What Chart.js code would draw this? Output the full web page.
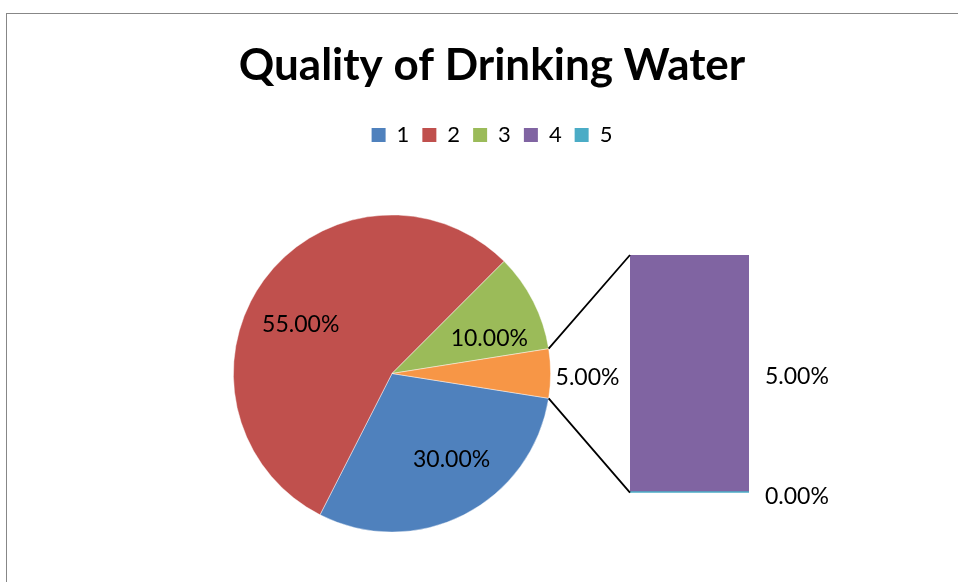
<!DOCTYPE html>
<html>
<head>
<meta charset="utf-8">
<script src="https://cdn.jsdelivr.net/npm/chart.js@4.4.1/dist/chart.umd.min.js"></script>
<style>
  html, body { margin: 0; padding: 0; background: #ffffff; overflow: hidden; }
  #wrap { position: relative; width: 958px; height: 582px; overflow: hidden; }
  #frame { position: absolute; left: 6px; top: 13px; width: 1200px; height: 1200px;
           border-left: 1px solid #878787; border-top: 1px solid #878787; }
  canvas { position: absolute; left: 0; top: 0; }
</style>
</head>
<body>
<div id="wrap">
  <div id="frame"></div>
  <canvas id="pieCanvas" width="958" height="582"></canvas>
  <canvas id="barCanvas" width="958" height="582"></canvas>
</div>
<script>
// ---------- data ----------
const chartTitle = 'Quality of Drinking Water';
const categories = ['1', '2', '3', '4', '5'];
const shares = [30, 55, 10, 5, 0];            // percent of total
const pieCategories = ['1', '2', '3'];        // own slices in the pie
const barCategories = ['5', '4'];             // stacked in the secondary bar, bottom first
const categoryColors = ['#4F81BD', '#C0504D', '#9BBB59', '#8064A2', '#4BACC6'];
const otherColor = '#F79646';

// ---------- derived ----------
const shareOf = c => shares[categories.indexOf(c)];
const otherValue = barCategories.reduce((s, c) => s + shareOf(c), 0);
const pieValues = pieCategories.map(shareOf).concat([otherValue]);
const pieColors = pieCategories.map(c => categoryColors[categories.indexOf(c)]).concat([otherColor]);
const total = pieValues.reduce((a, b) => a + b, 0);
const fmt = v => (v / total * 100).toFixed(2) + '%';

const FONT = 'Lato, "Open Sans", sans-serif';
const labelFont = '23px ' + FONT;

// label placement tweaks (degrees, fraction of radius) for the inner slice labels
const labelAngleNudge = [-8, -7.5, 6.5];
const labelRadiusFrac = 0.655;

// ---------- layout spacer boxes ----------
function spacerPlugin(id, specs) {
  return {
    id,
    beforeInit(chart) {
      specs.forEach(s => {
        const horizontal = s.position === 'top' || s.position === 'bottom';
        Chart.layouts.addBox(chart, {
          position: s.position, weight: s.weight || 0, fullSize: false,
          options: {},
          left: 0, top: 0, right: 0, bottom: 0, width: 0, height: 0,
          isHorizontal() { return horizontal; },
          update(maxW, maxH) {
            this.width = horizontal ? maxW : s.size;
            this.height = horizontal ? s.size : maxH;
          },
          draw() {}
        });
      });
    }
  };
}

// ---------- pie labels ----------
const pieLabelPlugin = {
  id: 'pieLabels',
  afterDatasetsDraw(chart) {
    const ctx = chart.ctx;
    const meta = chart.getDatasetMeta(0);
    ctx.save();
    ctx.font = labelFont;
    ctx.fillStyle = '#000';
    ctx.textBaseline = 'middle';
    meta.data.forEach((arc, i) => {
      const mid = (arc.startAngle + arc.endAngle) / 2;
      const txt = fmt(pieValues[i]);
      if (i === pieValues.length - 1) {
        const r = arc.outerRadius + 5;
        ctx.textAlign = 'left';
        ctx.fillText(txt, arc.x + r * Math.cos(mid), arc.y + r * Math.sin(mid) + 4);
      } else {
        const a = mid + labelAngleNudge[i] * Math.PI / 180;
        const r = arc.outerRadius * labelRadiusFrac;
        ctx.textAlign = 'center';
        ctx.fillText(txt, arc.x + r * Math.cos(a), arc.y + r * Math.sin(a) + 1);
      }
    });
    ctx.restore();
  }
};

const pieChart = new Chart(document.getElementById('pieCanvas'), {
  type: 'pie',
  data: {
    labels: pieCategories.concat(['Other']),
    datasets: [{
      data: pieValues,
      backgroundColor: pieColors,
      borderColor: 'rgba(255,255,255,0.55)',
      borderWidth: 0.8
    }]
  },
  options: {
    responsive: false,
    animation: false,
    events: [],
    rotation: 90 + otherValue * 3.6 / 2,
    layout: { padding: { left: 26, right: 0, top: 0, bottom: 49.5 } },
    plugins: {
      tooltip: { enabled: false },
      title: {
        display: true,
        text: chartTitle,
        color: '#000',
        font: { family: FONT, size: 44, weight: 'bold', lineHeight: 1.2 },
        padding: { top: 39.6, bottom: 18.6 }
      },
      legend: {
        display: true,
        position: 'top',
        labels: {
          color: '#000',
          font: { family: FONT, size: 22 },
          boxWidth: 14,
          boxHeight: 14,
          padding: 13,
          generateLabels: () => categories.map((c, i) => ({
            text: c, fillStyle: categoryColors[i], strokeStyle: categoryColors[i],
            lineWidth: 0, hidden: false, index: i, fontColor: '#000'
          }))
        }
      }
    }
  },
  plugins: [
    spacerPlugin('pieSpacers', [
      { position: 'top', size: 58.5, weight: 0 },
      { position: 'left', size: 207, weight: 0 },
      { position: 'right', size: 407, weight: 0 }
    ]),
    pieLabelPlugin
  ]
});

// ---------- secondary bar ----------
const barLabelAndConnector = {
  id: 'barExtras',
  afterDatasetsDraw(chart) {
    const ctx = chart.ctx;
    const yScale = chart.scales.y;
    const topEl = chart.getDatasetMeta(chart.data.datasets.length - 1).data[0];
    const barLeft = topEl.x - topEl.width / 2;
    const barTop = yScale.getPixelForValue(otherValue);
    const barBottom = yScale.getPixelForValue(0);

    // connector lines from the "other" slice of the pie
    const arc = pieChart.getDatasetMeta(0).data[pieValues.length - 1];
    const p1 = { x: arc.x + arc.outerRadius * Math.cos(arc.startAngle), y: arc.y + arc.outerRadius * Math.sin(arc.startAngle) };
    const p2 = { x: arc.x + arc.outerRadius * Math.cos(arc.endAngle), y: arc.y + arc.outerRadius * Math.sin(arc.endAngle) };
    const upper = p1.y < p2.y ? p1 : p2;
    const lower = p1.y < p2.y ? p2 : p1;
    ctx.save();
    ctx.strokeStyle = '#000';
    ctx.lineWidth = 1.8;
    ctx.beginPath();
    ctx.moveTo(upper.x, upper.y); ctx.lineTo(barLeft, barTop);
    ctx.moveTo(lower.x, lower.y); ctx.lineTo(barLeft, barBottom);
    ctx.stroke();

    // data labels to the right of each stacked segment
    ctx.font = labelFont;
    ctx.fillStyle = '#000';
    ctx.textAlign = 'left';
    ctx.textBaseline = 'middle';
    chart.data.datasets.forEach((ds, i) => {
      const el = chart.getDatasetMeta(i).data[0];
      const yMid = (el.y + el.base) / 2;
      ctx.fillText(fmt(ds.data[0]), el.x + el.width / 2 + 16, yMid + 4);
    });
    ctx.restore();
  }
};

new Chart(document.getElementById('barCanvas'), {
  type: 'bar',
  data: {
    labels: ['Other'],
    datasets: barCategories.map(c => ({
      label: c,
      data: [shareOf(c)],
      backgroundColor: categoryColors[categories.indexOf(c)],
      borderWidth: 0,
      minBarLength: 1,
      barPercentage: 1,
      categoryPercentage: 1
    }))
  },
  options: {
    responsive: false,
    animation: false,
    events: [],
    layout: { padding: { left: 630, right: 209, top: 255, bottom: 89.3 } },
    plugins: { legend: { display: false }, title: { display: false }, tooltip: { enabled: false } },
    scales: {
      x: { stacked: true, display: false },
      y: { stacked: true, display: false, min: 0, max: otherValue }
    }
  },
  plugins: [barLabelAndConnector]
});
</script>
</body>
</html>
